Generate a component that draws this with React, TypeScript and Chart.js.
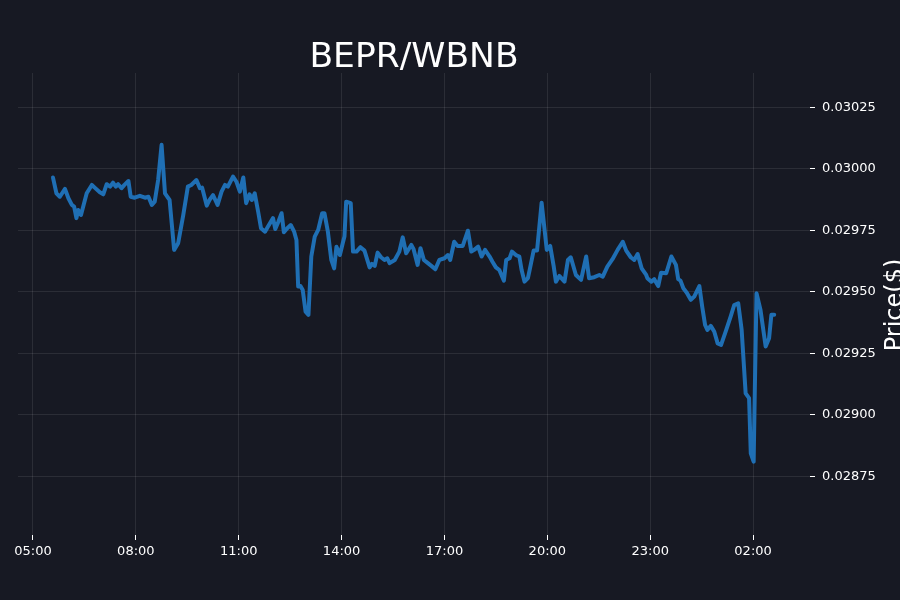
import React, { useEffect, useRef } from "react";
import { Chart, registerables } from "chart.js";

Chart.register(...registerables);

const chartTitle = "BEPR/WBNB";
const yAxisLabel = "Price($)";

const times = [
  "05:35", "05:41", "05:47", "05:56", "06:02", "06:08", "06:12", "06:16", "06:19", "06:24",
  "06:34", "06:43", "06:48", "06:57", "07:03", "07:09", "07:15", "07:20", "07:25", "07:29",
  "07:35", "07:40", "07:47", "07:51", "07:58", "08:07", "08:16", "08:22", "08:28", "08:33",
  "08:39", "08:45", "08:51", "08:55", "08:59", "09:07", "09:14", "09:23", "09:31", "09:37",
  "09:46", "09:52", "09:56", "10:04", "10:09", "10:15", "10:23", "10:30", "10:36", "10:41",
  "10:50", "10:56", "11:02", "11:08", "11:13", "11:19", "11:23", "11:28", "11:34", "11:39",
  "11:46", "11:51", "12:00", "12:04", "12:09", "12:15", "12:19", "12:25", "12:31", "12:37",
  "12:41", "12:44", "12:48", "12:52", "12:57", "13:02", "13:07", "13:13", "13:19", "13:26",
  "13:30", "13:36", "13:42", "13:47", "13:51", "13:57", "14:02", "14:05", "14:08", "14:16",
  "14:20", "14:26", "14:33", "14:40", "14:49", "14:53", "14:58", "15:03", "15:09", "15:15",
  "15:20", "15:24", "15:33", "15:41", "15:47", "15:53", "16:02", "16:06", "16:13", "16:18",
  "16:24", "16:31", "16:37", "16:44", "16:51", "17:00", "17:06", "17:10", "17:17", "17:23",
  "17:32", "17:41", "17:47", "17:52", "17:59", "18:05", "18:11", "18:19", "18:24", "18:30",
  "18:36", "18:44", "18:48", "18:54", "18:58", "19:05", "19:11", "19:15", "19:20", "19:26",
  "19:29", "19:36", "19:42", "19:50", "19:59", "20:05", "20:11", "20:15", "20:21", "20:30",
  "20:36", "20:41", "20:50", "20:59", "21:08", "21:13", "21:22", "21:31", "21:37", "21:45",
  "21:54", "22:03", "22:12", "22:18", "22:26", "22:32", "22:38", "22:45", "22:53", "22:55",
  "23:02", "23:07", "23:14", "23:19", "23:28", "23:37", "23:45", "23:49", "23:53", "23:58",
  "00:04", "00:11", "00:17", "00:26", "00:31", "00:36", "00:40", "00:46", "00:52", "00:58",
  "01:04", "01:12", "01:21", "01:27", "01:34", "01:40", "01:47", "01:53", "01:56", "02:01",
  "02:03", "02:06", "02:13", "02:22", "02:28", "02:32", "02:37",
];

const prices = [
  0.029965, 0.029901, 0.029887, 0.029919, 0.029881, 0.029854, 0.029847, 0.0298, 0.029833, 0.029813,
  0.029901, 0.029935, 0.029924, 0.029905, 0.029897, 0.029938, 0.029928, 0.029944, 0.029928, 0.029938,
  0.029922, 0.029935, 0.029951, 0.029887, 0.029883, 0.029891, 0.029883, 0.029887, 0.029854, 0.029867,
  0.029955, 0.030098, 0.029901, 0.029887, 0.029874, 0.029671, 0.029698, 0.029813, 0.029928, 0.029935,
  0.029955, 0.029922, 0.029924, 0.029851, 0.029874, 0.029894, 0.029854, 0.029908, 0.029935, 0.029928,
  0.029969, 0.029948, 0.029908, 0.029965, 0.029861, 0.029897, 0.029874, 0.029901, 0.029826, 0.029759,
  0.029745, 0.029765, 0.0298, 0.029756, 0.029783, 0.02982, 0.029743, 0.029759, 0.029772, 0.029745,
  0.029711, 0.029522, 0.029524, 0.029508, 0.02942, 0.029407, 0.029644, 0.029725, 0.029752, 0.02982,
  0.02982, 0.029745, 0.02963, 0.029596, 0.029684, 0.02965, 0.029698, 0.029725, 0.029867, 0.029861,
  0.029664, 0.029664, 0.029682, 0.029668, 0.0296, 0.029614, 0.029606, 0.02966, 0.029641, 0.02963,
  0.029637, 0.029617, 0.02963, 0.029664, 0.029722, 0.029657, 0.029691, 0.029674, 0.02961, 0.029678,
  0.02963, 0.029617, 0.029606, 0.029592, 0.02963, 0.029637, 0.02965, 0.02963, 0.029704, 0.029687,
  0.029687, 0.029749, 0.029664, 0.029671, 0.029684, 0.029644, 0.029671, 0.029644, 0.029623, 0.0296,
  0.029589, 0.029546, 0.02963, 0.029637, 0.029664, 0.02965, 0.029644, 0.029589, 0.029542, 0.029556,
  0.029589, 0.029668, 0.029668, 0.029863, 0.029671, 0.029687, 0.029606, 0.029542, 0.029565, 0.029542,
  0.02963, 0.029641, 0.029569, 0.029549, 0.029644, 0.029556, 0.02956, 0.029569, 0.029562, 0.029603,
  0.029633, 0.029671, 0.029704, 0.029668, 0.029641, 0.02963, 0.029654, 0.029596, 0.029569, 0.029556,
  0.029542, 0.029552, 0.029524, 0.029578, 0.029576, 0.029644, 0.02961, 0.029552, 0.029546, 0.029515,
  0.029497, 0.029468, 0.029481, 0.029524, 0.02944, 0.029366, 0.029346, 0.029362, 0.029339, 0.029291,
  0.029285, 0.029339, 0.029402, 0.029447, 0.029454, 0.029346, 0.029088, 0.029068, 0.028844, 0.02881,
  0.029095, 0.029495, 0.029427, 0.029278, 0.029312, 0.029407, 0.029407,
];

// x ticks in hours (hours >= 24 belong to the next day)
const xTickHours = [5, 8, 11, 14, 17, 20, 23, 26];
const yTickValues = [0.02875, 0.029, 0.02925, 0.0295, 0.02975, 0.03, 0.03025];
const xMin = 4.563;
const xMax = 27.66;
const yMin = 0.028512;
const yMax = 0.03039;

const BG = "#171923";
const LINE = "#1f6fb4";
const GRID = "rgba(255,255,255,0.09)";
const FONT = "'DejaVu Sans', sans-serif";

function toHours(t: string): number {
  const [h, m] = t.split(":").map(Number);
  return (h < 5 ? h + 24 : h) + m / 60;
}

function fmtHour(v: number): string {
  const h = ((Math.round(v) % 24) + 24) % 24;
  return String(h).padStart(2, "0") + ":00";
}

const yLabelPlugin = {
  id: "yAxisLabelRotated",
  afterDraw(chart: any) {
    const { ctx, chartArea } = chart;
    ctx.save();
    ctx.translate(902, (chartArea.top + chartArea.bottom) / 2 + 1);
    ctx.rotate(-Math.PI / 2);
    ctx.font = `24px ${FONT}`;
    ctx.fillStyle = "#ffffff";
    ctx.textAlign = "center";
    ctx.textBaseline = "alphabetic";
    ctx.fillText(yAxisLabel, 0, 0);
    ctx.restore();
  },
};

export default function App() {
  const canvasRef = useRef<HTMLCanvasElement | null>(null);

  useEffect(() => {
    const canvas = canvasRef.current;
    if (!canvas) return;
    const data = times.map((t, i) => ({ x: toHours(t), y: prices[i] }));
    const chart = new Chart(canvas, {
      type: "line",
      data: {
        datasets: [
          {
            label: chartTitle,
            data,
            borderColor: LINE,
            backgroundColor: LINE,
            borderWidth: 4,
            pointRadius: 0,
            tension: 0,
            borderJoinStyle: "round",
            borderCapStyle: "round",
          },
        ],
      },
      options: {
        responsive: false,
        animation: false,
        events: [],
        layout: { padding: { left: 18, right: 0, top: 0, bottom: 0 } },
        plugins: {
          legend: { display: false },
          tooltip: { enabled: false },
          title: {
            display: true,
            text: chartTitle,
            color: "#ffffff",
            fullSize: false,
            font: { family: FONT, size: 34.5, weight: "normal", lineHeight: 1 },
            padding: { top: 41, bottom: -2.5 },
          },
        },
        scales: {
          x: {
            type: "linear",
            min: xMin,
            max: xMax,
            afterBuildTicks: (s: any) => {
              s.ticks = xTickHours.map((v) => ({ value: v }));
            },
            afterFit: (s: any) => {
              s.height = 65;
            },
            grid: { color: GRID, tickColor: "#ffffff", tickLength: 5, drawTicks: true },
            border: { display: false },
            ticks: {
              color: "#ffffff",
              font: { family: FONT, size: 13 },
              padding: 4,
              maxRotation: 0,
              autoSkip: false,
              callback: (v: any) => fmtHour(Number(v)),
            },
          },
          y: {
            type: "linear",
            position: "right",
            min: yMin,
            max: yMax,
            afterBuildTicks: (s: any) => {
              s.ticks = yTickValues.map((v) => ({ value: v }));
            },
            afterFit: (s: any) => {
              s.width = 90;
            },
            grid: { color: GRID, tickColor: "#ffffff", tickLength: 5, drawTicks: true },
            border: { display: false },
            ticks: {
              color: "#ffffff",
              font: { family: FONT, size: 13 },
              padding: 7,
              autoSkip: false,
              callback: (v: any) => Number(v).toFixed(5),
            },
          },
        },
      },
      plugins: [yLabelPlugin],
    });
    return () => chart.destroy();
  }, []);

  return (
    <div
      style={{
        position: "fixed",
        left: 0,
        top: 0,
        width: 900,
        height: 600,
        background: BG,
      }}
    >
      <canvas ref={canvasRef} width={900} height={600} style={{ display: "block" }} />
    </div>
  );
}
